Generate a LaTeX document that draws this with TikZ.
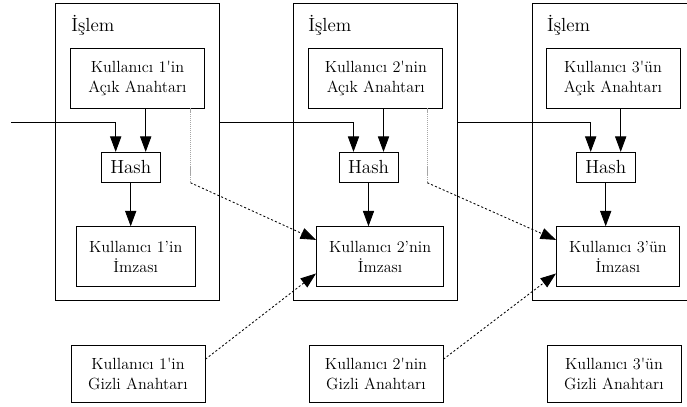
\documentclass[tikz,border=0pt]{standalone}
\usepackage{tikz}
\usepackage{fontspec}
\usetikzlibrary{arrows.meta}

\tikzset{
  islemkutu/.style={draw, minimum width=4.1cm, minimum height=7.435cm},
  baslik/.style={anchor=base west, inner sep=0pt, font=\fontsize{13.5}{16}\selectfont},
  acikkutu/.style={draw, align=center, minimum width=3.35cm, minimum height=1.5cm},
  gizlikutu/.style={draw, align=center, minimum width=3.35cm, minimum height=1.425cm},
  hashkutu/.style={draw, minimum width=1.475cm, minimum height=.75cm, inner sep=0pt, font=\fontsize{13.5}{16}\selectfont},
  imzakutu/.style={draw, align=center, anchor=west, minimum height=1.5cm, inner xsep=9pt},
  imzaok/.style={->, dash pattern=on 1.5pt off 1.5pt},
  izcizgi/.style={gray!70, dash pattern=on .8pt off .6pt}
}

\begin{document}
\begin{tikzpicture}[x=.025cm, y=-.025cm, line width=.6pt, >={Triangle[length=11pt, width=8pt]}, font=\fontsize{11.5}{14.2}\selectfont]
\useasboundingbox (0, 0) rectangle (687, 407);

\node[islemkutu] (islem1) at (137.5, 152) {}; %islem 1
\node[baslik] (baslik1) at (71, 31.7) {İşlem};
\node[acikkutu] (acik1) at (137.5, 78) {Kullanıcı 1\textquotesingle in\\Açık Anahtarı};
\node[hashkutu] (hash1) at (130.7, 167.3) {Hash};
\node[imzakutu] (imza1) at (76, 256.7) {Kullanıcı 1'in\\İmzası};

\node[islemkutu] (islem2) at (375.5, 152) {}; %islem 2
\node[baslik] (baslik2) at (308, 31.7) {İşlem};
\node[acikkutu] (acik2) at (375.8, 78) {Kullanıcı 2\textquotesingle nin\\Açık Anahtarı};
\node[hashkutu] (hash2) at (368.5, 167.3) {Hash};
\node[imzakutu] (imza2) at (316, 256.7) {Kullanıcı 2'nin\\İmzası};

\node[islemkutu] (islem3) at (614, 152) {}; %islem 3
\node[baslik] (baslik3) at (546.7, 31.7) {İşlem};
\node[acikkutu] (acik3) at (613, 78) {Kullanıcı 3\textquotesingle ün\\Açık Anahtarı};
\node[hashkutu] (hash3) at (605.7, 167.3) {Hash};
\node[imzakutu] (imza3) at (556, 256.7) {Kullanıcı 3'ün\\İmzası};

\node[gizlikutu] (gizli1) at (138, 374.2) {Kullanıcı 1\textquotesingle in\\Gizli Anahtarı}; %gizli anahtarlar
\node[gizlikutu] (gizli2) at (376, 374.2) {Kullanıcı 2\textquotesingle nin\\Gizli Anahtarı};
\node[gizlikutu] (gizli3) at (614, 374.2) {Kullanıcı 3\textquotesingle ün\\Gizli Anahtarı};

\coordinate (giris) at (11, 122.7);
\draw[->] (giris) -| ([xshift=-.375cm]hash1.north); %zincir
\draw[->] (islem1.east |- giris) -| ([xshift=-.375cm]hash2.north);
\draw[->] (islem2.east |- giris) -| ([xshift=-.375cm]hash3.north);

\draw[->] ([xshift=.375cm]hash1.north |- acik1.south) -- ([xshift=.375cm]hash1.north); %acik -> hash
\draw[->] ([xshift=.375cm]hash2.north |- acik2.south) -- ([xshift=.375cm]hash2.north);
\draw[->] ([xshift=.375cm]hash3.north |- acik3.south) -- ([xshift=.375cm]hash3.north);

\draw[->] (hash1.south) -- (hash1.south |- imza1.north); %hash -> imza
\draw[->] (hash2.south) -- (hash2.south |- imza2.north);
\draw[->] (hash3.south) -- (hash3.south |- imza3.north);

\draw[izcizgi] ([xshift=-.3625cm]acik1.south east) coordinate (dik1) -- (dik1 |- hash1.south) coordinate (kose1); %dogrulama
\draw[imzaok] (kose1) -- ([yshift=.42cm]imza2.west);
\draw[izcizgi] ([xshift=-.4cm]acik2.south east) coordinate (dik2) -- (dik2 |- hash2.south) coordinate (kose2);
\draw[imzaok] (kose2) -- ([yshift=.42cm]imza3.west);

\draw[imzaok] ([yshift=.375cm]gizli1.east) -- ([yshift=-.42cm]imza2.west); %imzalama
\draw[imzaok] ([yshift=.375cm]gizli2.east) -- ([yshift=-.42cm]imza3.west);

\end{tikzpicture}
\end{document}
